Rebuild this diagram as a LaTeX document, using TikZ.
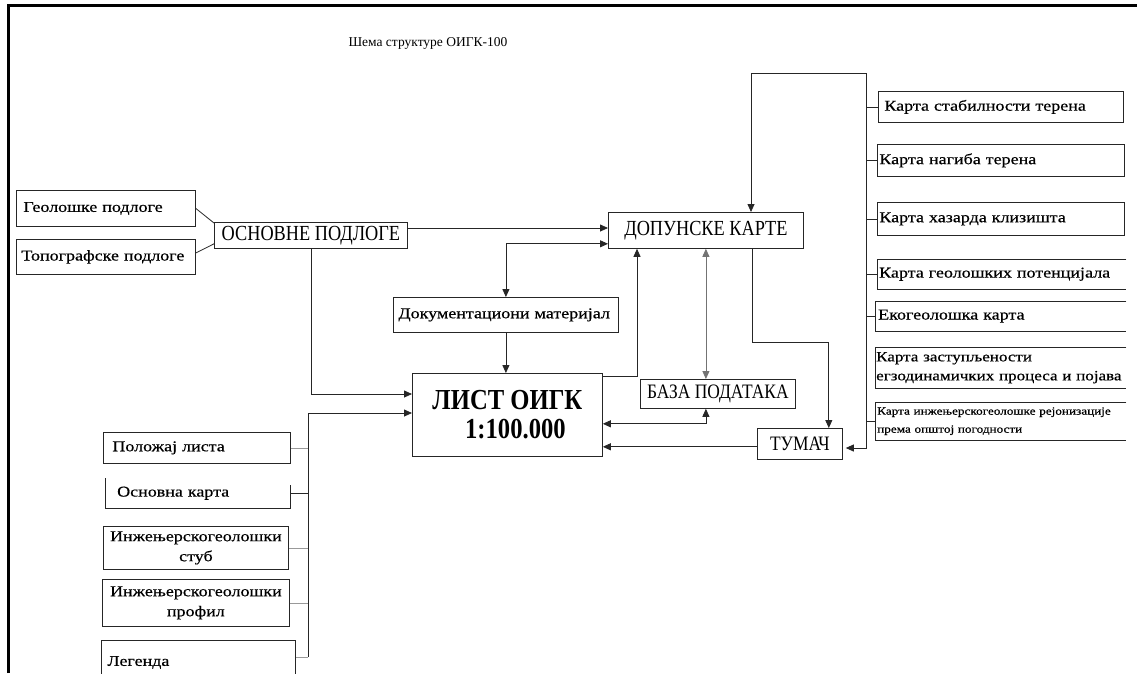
\documentclass[tikz,border=0pt]{standalone}
\usepackage{fontspec}
\setmainfont{Liberation Serif}
\newfontfamily\capfont[FakeStretch=0.85]{Liberation Serif}
\newfontfamily\widefont[FakeStretch=1.2,FakeBold=0.5]{Liberation Serif}
\usetikzlibrary{arrows.meta,calc}

\tikzset{
  box/.style={draw=black!85, line width=0.8pt, inner sep=0pt, anchor=north west},
  lbox/.style={box, align=left},
  obox/.style={inner sep=0pt, anchor=north west, align=left},
  cbox/.style={box, align=center},
  conn/.style={draw=black!85, line width=0.8pt},
  faint/.style={draw=black!40, line width=0.8pt},
  arr/.style={conn, -{Triangle[length=8pt,width=7pt]}},
  darr/.style={conn, {Triangle[length=8pt,width=7pt]}-{Triangle[length=8pt,width=7pt]}},
  txt/.style={font=\widefont\fontsize{15}{20}\selectfont},
  caps/.style={font=\capfont\fontsize{21.5}{24}\selectfont},
  capsm/.style={font=\capfont\fontsize{20.5}{22}\selectfont},
}

\begin{document}
\begin{tikzpicture}[x=1pt, y=-1pt]
\fill[white] (0,0) rectangle (1137,673);
\useasboundingbox (0,0) rectangle (1137,673);

% page frame
\draw[line width=3pt] (8.5,673) -- (8.5,5.5) -- (1137,5.5);

% title
\node[anchor=base west, font=\fontsize{13.5}{16}\selectfont] (title) at (345,46) {Шема структуре ОИГК-100};

% base layers
\node[lbox, txt, minimum width=179pt, minimum height=36pt, text width=165pt, inner xsep=7pt] (geo) at (16,190) {\mbox{Геолошке подлоге}};
\node[lbox, txt, minimum width=179pt, minimum height=35pt, text width=169pt, inner xsep=5pt] (topo) at (16,239) {\mbox{Топографске подлоге}};
\node[cbox, caps, minimum width=193pt, minimum height=26pt] (osn) at (214,222) {ОСНОВНЕ ПОДЛОГЕ};

% central blocks
\node[cbox, caps, minimum width=195pt, minimum height=36pt] (dop) at (608,212) {ДОПУНСКЕ КАРТЕ};
\node[lbox, txt, minimum width=225pt, minimum height=35pt, text width=215pt, inner xsep=5pt] (dok) at (393,297) {\mbox{Документациони материјал}};
\node[cbox, font=\capfont\bfseries\fontsize{29}{28}\selectfont, minimum width=190pt, minimum height=83pt] (list) at (412,373) {ЛИСТ ОИГК\\[1pt]\hspace*{16pt}1:100.000};
\node[cbox, capsm, minimum width=155pt, minimum height=29pt] (baza) at (640,379) {БАЗА ПОДАТАКА};
\node[cbox, capsm, minimum width=85pt, minimum height=31pt] (tumac) at (757,428) {ТУМАЧ};

% thematic maps (right column)
\node[lbox, txt, minimum width=245pt, minimum height=31pt, text width=233pt, inner xsep=6pt] (r1) at (878,91) {\mbox{Карта стабилности терена}};
\node[lbox, txt, minimum width=247pt, minimum height=32pt, text width=243pt, inner xsep=2pt] (r2) at (877,144) {\mbox{Карта нагиба терена}};
\node[lbox, txt, minimum width=247pt, minimum height=33pt, text width=243pt, inner xsep=2pt] (r3) at (877,202) {\mbox{Карта хазарда клизишта}};
\node[obox, txt, minimum width=249pt, minimum height=30pt, text width=245pt, inner xsep=2pt] (r4) at (877,259) {\mbox{Карта геолошких потенцијала}};
\node[obox, txt, minimum width=251pt, minimum height=30pt, text width=245pt, inner xsep=3pt] (r5) at (875,301) {\mbox{Екогеолошка карта}};
\node[obox, font=\widefont\fontsize{14.2}{19}\selectfont, minimum width=251pt, minimum height=41pt, text width=249pt, inner xsep=1pt] (r6) at (875,347) {\mbox{Карта заступљености}\\\mbox{егзодинамичких процеса и појава}};
\node[obox, font=\widefont\fontsize{11}{18}\selectfont, minimum width=251pt, minimum height=38pt, text width=247pt, inner xsep=2pt] (r7) at (875,402) {\mbox{Карта инжењерскогеолошке рејонизације}\\\mbox{према општој погодности}};
\foreach \n in {r4,r5,r6,r7}{
  \draw[conn] (\n.north east) -- (\n.north west) -- (\n.south west) -- (\n.south east);
}

% sheet contents (left column)
\node[lbox, txt, minimum width=187pt, minimum height=31pt, text width=169pt, inner xsep=9pt] (l1) at (103,432) {\mbox{Положај листа}};
\node[obox, txt, minimum width=185pt, minimum height=30pt, text width=161pt, inner xsep=12pt] (l2) at (105,478) {\mbox{Основна карта}};
\draw[conn] (l2.north west) -- (l2.south west) -- (l2.south east) -- ($(l2.north east)+(0,7)$);
\node[cbox, txt, minimum width=185pt, minimum height=43pt, text width=185pt] (l3) at (103,526) {Инжењерскогеолошки\\стуб};
\node[cbox, txt, minimum width=187pt, minimum height=47pt, text width=187pt] (l4) at (102,579) {Инжењерскогеолошки\\профил};
\node[lbox, txt, minimum width=188pt, minimum height=44pt, text width=182pt, inner xsep=6pt] (l5) at (101,640) {\mbox{Легенда}};

% base layers into ОСНОВНЕ ПОДЛОГЕ
\draw[conn] (geo.east) -- ($(osn.north west)+(0,1)$);
\draw[conn] ($(topo.north east)+(0,14)$) -- ($(osn.south west)+(0,-5)$);

% ОСНОВНЕ ПОДЛОГЕ -> ДОПУНСКЕ КАРТЕ
\coordinate (a1) at ($(osn.north east)+(0,6)$);
\draw[arr] (a1) -- (a1 -| dop.west);

% ОСНОВНЕ ПОДЛОГЕ -> ЛИСТ ОИГК
\coordinate (a2) at ($(list.north west)+(0,21)$);
\draw[arr] (osn.south) |- (a2);

% Документациони материјал <-> ДОПУНСКЕ КАРТЕ
\coordinate (b1) at ($(dop.south west)+(0,-5)$);
\draw[darr] (dok.north) |- (b1);
\draw[arr] (dok.south) -- (dok.south |- list.north);

% ЛИСТ ОИГК -> ДОПУНСКЕ КАРТЕ
\coordinate (c1) at ($(list.north east)+(0,3)$);
\coordinate (c2) at ($(dop.south west)+(29,0)$);
\draw[arr] (c1) -| (c2);

% ДОПУНСКЕ КАРТЕ <-> БАЗА ПОДАТАКА
\draw[darr, draw=black!55] (dop.south) -- (dop.south |- baza.north);

% БАЗА ПОДАТАКА <-> ЛИСТ ОИГК
\coordinate (e1) at ($(list.south east)+(0,-33)$);
\draw[darr] (dop.south |- baza.south) |- (e1);

% ДОПУНСКЕ КАРТЕ -> ТУМАЧ
\coordinate (d1) at ($(dop.south west)+(144,0)$);
\coordinate (d2) at ($(tumac.north east)+(-14,0)$);
\draw[arr] (d1) -- ++(0,94) -| (d2);

% ТУМАЧ -> ЛИСТ ОИГК
\coordinate (g1) at ($(tumac.south west)+(0,-13)$);
\draw[arr] (g1) -- (g1 -| list.east);

% right bus: ТУМАЧ <-> ДОПУНСКЕ КАРТЕ, with the thematic maps
\coordinate (f1) at ($(dop.north west)+(143,0)$);
\coordinate (rbtop) at (866,73);
\coordinate (rbbot) at (866,448);
\draw[darr] (f1) |- (rbtop) -- (rbbot) -- ($(rbbot -| tumac.east)+(3,0)$);
\foreach \n in {r1,r2,r3,r4,r5,r7}{
  \draw[conn] (\n.west -| rbtop) -- (\n.west);
}

% left bus: sheet contents -> ЛИСТ ОИГК
\coordinate (lbtop) at (308,413);
\coordinate (lbbot) at (308,657);
\draw[arr] (lbbot) -- (lbtop) -- (lbtop -| list.west);
\draw[faint] (l1.east) -- (l1.east -| lbtop);
\draw[conn] (l2.east) -- (l2.east -| lbtop);
\draw[faint] (l3.east) -- (l3.east -| lbtop);
\draw[faint] (l4.east) -- (l4.east -| lbtop);
\draw[faint] ($(l5.north east)+(0,17)$) -- (lbbot);
\end{tikzpicture}
\end{document}
